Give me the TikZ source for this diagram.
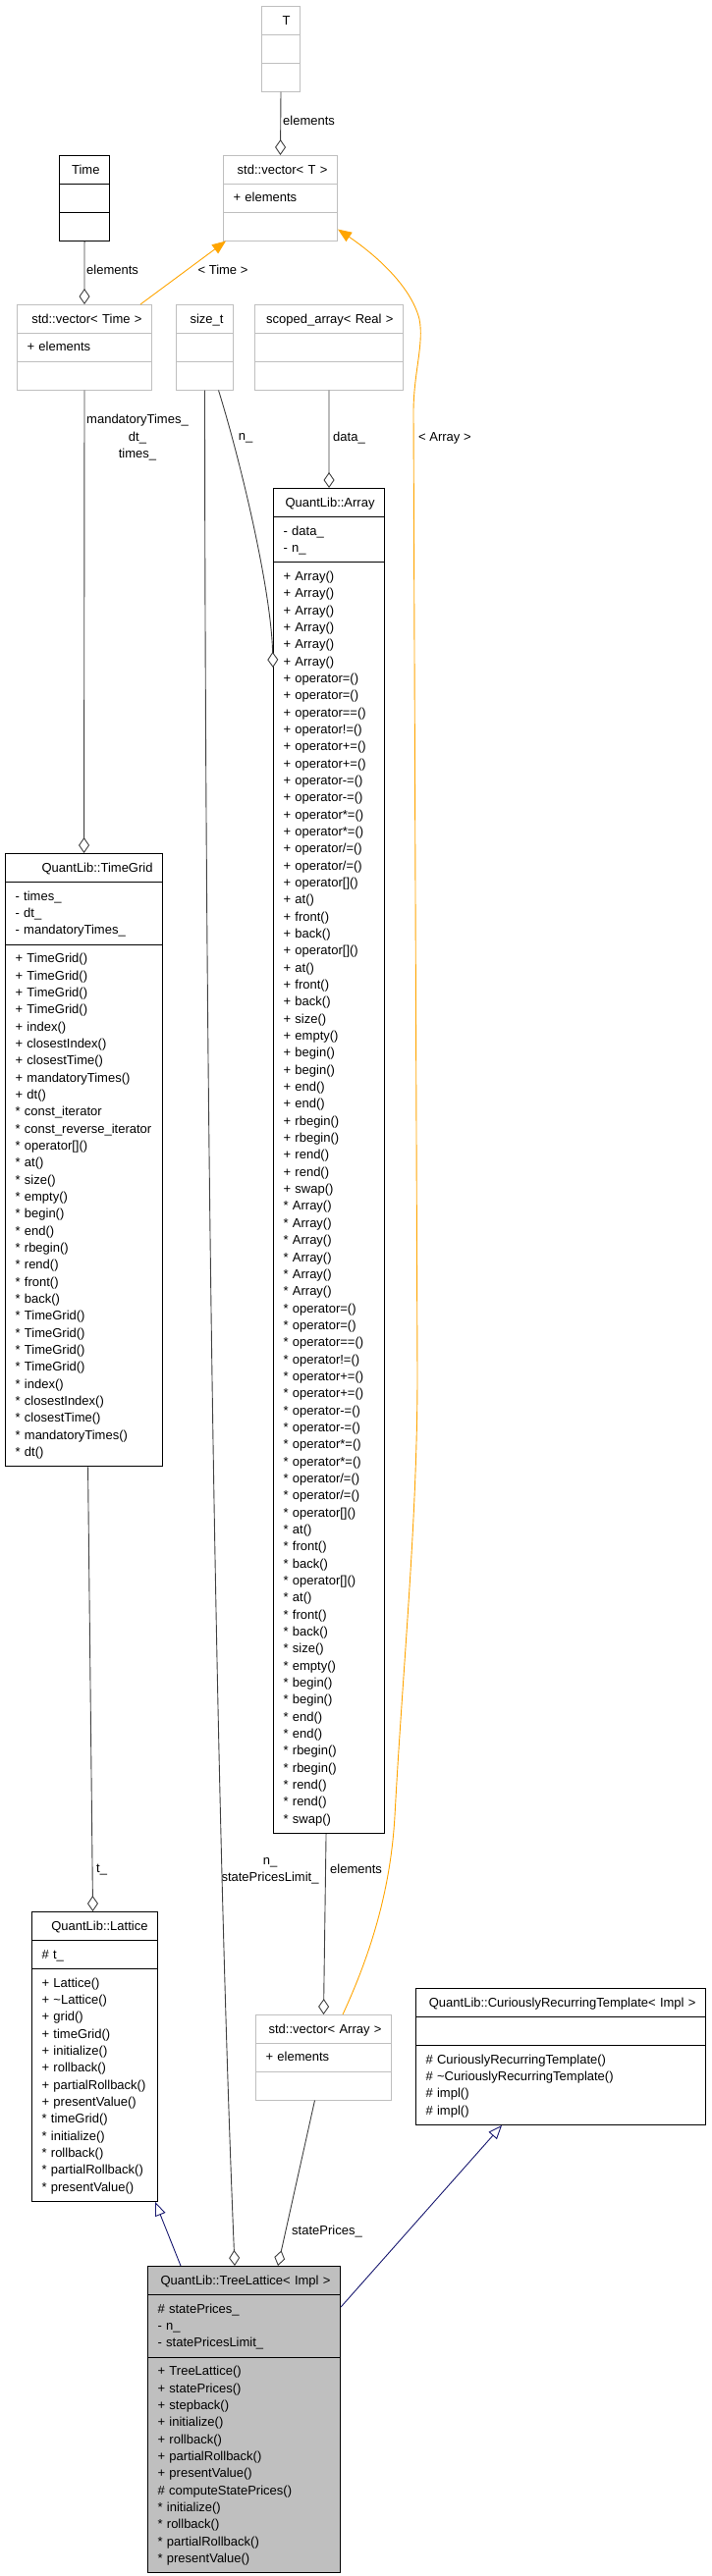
\documentclass[tikz,border=0pt]{standalone}
\usepackage{fontspec}
\setmainfont{Liberation Sans}
\usetikzlibrary{shapes.multipart,arrows.meta}
\definecolor{boxgray}{HTML}{BFBFBF}
\definecolor{edgegray}{HTML}{404040}
\definecolor{inhblue}{HTML}{191970}
\definecolor{tmplorange}{HTML}{FFA500}
\setlength{\parindent}{0pt}
\newcommand{\rs}{\rule[-4.5pt]{0pt}{17.34pt}}
\newcommand{\ttl}[1]{\rs\hspace*{\fill}#1\hspace*{\fill}}
\tikzset{
  cls/.style={rectangle split, rectangle split parts=3, draw=black, line width=1.1pt,
    anchor=north west, inner xsep=10pt, inner ysep=5.25pt, align=left, text width=#1,
    font=\fontsize{13pt}{17.34pt}\selectfont},
  graycls/.style={cls=#1, draw=boxgray, line width=1pt},
  agg/.style={draw=edgegray, line width=0.9pt, -{Diamond[fill=white,length=16pt,width=11pt]}},
  tmpl/.style={draw=tmplorange, line width=0.9pt, -{Triangle[length=14pt,width=11pt]}},
  inh/.style={draw=inhblue, line width=0.9pt, -{Triangle[fill=white,length=14pt,width=11pt]}},
  lbl/.style={font=\fontsize{13pt}{17.34pt}\selectfont, inner sep=0pt, align=center},
}
\begin{document}
\begin{tikzpicture}[x=1pt,y=-1pt]
      \path[use as bounding box, fill=white] (0,0) rectangle (724,2624);
      %%%%%%%%%%%%%%%%%%%%%%%%%%%%%%%%%%%%%%%%%%%%%%%
      \node[graycls=19pt] at (266,6) (T) {\ttl{T} \nodepart{two}\rs \nodepart{three}\rs};
      \node[graycls=96pt] at (227,158) (vecT) {\ttl{std::vector< T >} \nodepart{two}\rs + elements \nodepart{three}\rs};
      \node[cls=31pt] at (60,158) (Time) {\ttl{Time} \nodepart{two}\rs \nodepart{three}\rs};
      \node[lbl, anchor=west] at (288,123) (lT) {elements};
      \node[lbl, anchor=west] at (88,275) (lTime) {elements};
      \node[lbl] at (227,275) (lTimeT) {< Time >};
      %%%%%%%%%%%%%%%%%%%%%%%%%%%%%%%%%%%%%%%%%%%%%%%
      \node[graycls=117pt] at (17,310) (vecTime) {\ttl{std::vector< Time >} \nodepart{two}\rs + elements \nodepart{three}\rs};
      \node[graycls=38pt] at (179,310) (sizet) {\ttl{size\_t} \nodepart{two}\rs \nodepart{three}\rs};
      \node[graycls=131pt] at (259,310) (scoped) {\ttl{scoped\_array< Real >} \nodepart{two}\rs \nodepart{three}\rs};
      \node[lbl] at (140,445) (lTG) {\rs mandatoryTimes\_\\ \rs dt\_\\ \rs times\_};
      \node[lbl] at (250,446) (lN) {n\_};
      \node[lbl, anchor=west] at (339,446) (lData) {data\_};
      \node[lbl, anchor=west] at (426,446) (lArrT) {< Array >};
      %%%%%%%%%%%%%%%%%%%%%%%%%%%%%%%%%%%%%%%%%%%%%%%
      \node[cls=93pt] at (278,497) (arr) {\ttl{QuantLib::Array}
        \nodepart{two}\rs - data\_\\ \rs - n\_
        \nodepart{three}\rs + Array()\\ \rs + Array()\\ \rs + Array()\\ \rs + Array()\\ \rs + Array()\\ \rs + Array()\\
        \rs + operator=()\\ \rs + operator=()\\ \rs + operator==()\\ \rs + operator!=()\\
        \rs + operator+=()\\ \rs + operator+=()\\ \rs + operator-=()\\ \rs + operator-=()\\
        \rs + operator*=()\\ \rs + operator*=()\\ \rs + operator/=()\\ \rs + operator/=()\\
        \rs + operator[]()\\ \rs + at()\\ \rs + front()\\ \rs + back()\\
        \rs + operator[]()\\ \rs + at()\\ \rs + front()\\ \rs + back()\\
        \rs + size()\\ \rs + empty()\\ \rs + begin()\\ \rs + begin()\\ \rs + end()\\ \rs + end()\\
        \rs + rbegin()\\ \rs + rbegin()\\ \rs + rend()\\ \rs + rend()\\ \rs + swap()\\
        \rs * Array()\\ \rs * Array()\\ \rs * Array()\\ \rs * Array()\\ \rs * Array()\\ \rs * Array()\\
        \rs * operator=()\\ \rs * operator=()\\ \rs * operator==()\\ \rs * operator!=()\\
        \rs * operator+=()\\ \rs * operator+=()\\ \rs * operator-=()\\ \rs * operator-=()\\
        \rs * operator*=()\\ \rs * operator*=()\\ \rs * operator/=()\\ \rs * operator/=()\\
        \rs * operator[]()\\ \rs * at()\\ \rs * front()\\ \rs * back()\\
        \rs * operator[]()\\ \rs * at()\\ \rs * front()\\ \rs * back()\\
        \rs * size()\\ \rs * empty()\\ \rs * begin()\\ \rs * begin()\\ \rs * end()\\ \rs * end()\\
        \rs * rbegin()\\ \rs * rbegin()\\ \rs * rend()\\ \rs * rend()\\ \rs * swap()};
      %%%%%%%%%%%%%%%%%%%%%%%%%%%%%%%%%%%%%%%%%%%%%%%
      \node[cls=140pt] at (5,869) (tg) {\ttl{QuantLib::TimeGrid}
        \nodepart{two}\rs - times\_\\ \rs - dt\_\\ \rs - mandatoryTimes\_
        \nodepart{three}\rs + TimeGrid()\\ \rs + TimeGrid()\\ \rs + TimeGrid()\\ \rs + TimeGrid()\\
        \rs + index()\\ \rs + closestIndex()\\ \rs + closestTime()\\ \rs + mandatoryTimes()\\ \rs + dt()\\
        \rs * const\_iterator\\ \rs * const\_reverse\_iterator\\ \rs * operator[]()\\ \rs * at()\\
        \rs * size()\\ \rs * empty()\\ \rs * begin()\\ \rs * end()\\ \rs * rbegin()\\ \rs * rend()\\
        \rs * front()\\ \rs * back()\\
        \rs * TimeGrid()\\ \rs * TimeGrid()\\ \rs * TimeGrid()\\ \rs * TimeGrid()\\
        \rs * index()\\ \rs * closestIndex()\\ \rs * closestTime()\\ \rs * mandatoryTimes()\\ \rs * dt()};
      %%%%%%%%%%%%%%%%%%%%%%%%%%%%%%%%%%%%%%%%%%%%%%%
      \node[lbl, anchor=west] at (98,1905) (lt) {t\_};
      \node[lbl] at (275,1904) (lSP) {\rs n\_\\ \rs statePricesLimit\_};
      \node[lbl, anchor=west] at (336,1904) (lElem) {elements};
      \node[lbl, anchor=west] at (297,2273) (lSPr) {statePrices\_};
      %%%%%%%%%%%%%%%%%%%%%%%%%%%%%%%%%%%%%%%%%%%%%%%
      \node[cls=108pt] at (32,1947) (lat) {\ttl{QuantLib::Lattice}
        \nodepart{two}\rs \# t\_
        \nodepart{three}\rs + Lattice()\\ \rs + \textasciitilde Lattice()\\ \rs + grid()\\ \rs + timeGrid()\\
        \rs + initialize()\\ \rs + rollback()\\ \rs + partialRollback()\\ \rs + presentValue()\\
        \rs * timeGrid()\\ \rs * initialize()\\ \rs * rollback()\\ \rs * partialRollback()\\ \rs * presentValue()};
      \node[graycls=118pt] at (260,2052) (vecArr) {\ttl{std::vector< Array >} \nodepart{two}\rs + elements \nodepart{three}\rs};
      \node[cls=275pt] at (423,2025) (crt) {\ttl{QuantLib::CuriouslyRecurringTemplate< Impl >}
        \nodepart{two}\rs
        \nodepart{three}\rs \# CuriouslyRecurringTemplate()\\ \rs \# \textasciitilde CuriouslyRecurringTemplate()\\
        \rs \# impl()\\ \rs \# impl()};
      \node[cls=176pt, fill=boxgray] at (150,2308) (tl) {\ttl{QuantLib::TreeLattice< Impl >}
        \nodepart{two}\rs \# statePrices\_\\ \rs - n\_\\ \rs - statePricesLimit\_
        \nodepart{three}\rs + TreeLattice()\\ \rs + statePrices()\\ \rs + stepback()\\ \rs + initialize()\\
        \rs + rollback()\\ \rs + partialRollback()\\ \rs + presentValue()\\ \rs \# computeStatePrices()\\
        \rs * initialize()\\ \rs * rollback()\\ \rs * partialRollback()\\ \rs * presentValue()};
      %%%%%%%%%%%%%%%%%%%%%%%%%%%%%%%%%%%%%%%%%%%%%%%
      \draw[agg] (T.south) -- (vecT.north);
      \draw[agg] (Time.south) -- (vecTime.north);
      \draw[agg] (vecTime.south) -- (tg.north);
      \draw[agg] (scoped.south) -- (arr.north);
      \draw[agg] ([xshift=14pt]sizet.south) .. controls (245,470) and (276,600) .. ([yshift=-183pt]arr.north west);
      \draw[agg] (sizet.south) .. controls (209,1200) and (222,1900) .. ([xshift=89pt]tl.north west);
      \draw[agg] ([xshift=-3pt]arr.south) -- (vecArr.north);
      \draw[agg] ([xshift=4pt]tg.south) -- ([xshift=-2pt]lat.north);
      \draw[agg] ([xshift=-9pt]vecArr.south) -- ([xshift=133pt]tl.north west);
      \draw[tmpl] ([xshift=-12pt]vecTime.north east) -- ([xshift=3pt]vecT.south west);
      \draw[tmpl] ([xshift=-50pt]vecArr.north east) .. controls (380,1985) and (398,1920) .. (402,1850)
            .. controls (410,1700) and (425,1550) .. (425,1400) -- (421,420)
            .. controls (421,380) and (432,350) .. (427,325)
            .. controls (418,290) and (380,258) .. ([yshift=12pt]vecT.south east);
      \draw[inh] ([xshift=34pt]tl.north west) -- ([xshift=-3pt]lat.south east);
      \draw[inh] ([yshift=-42pt]tl.north east) -- ([xshift=88pt]crt.south west);
    \end{tikzpicture}
\end{document}
